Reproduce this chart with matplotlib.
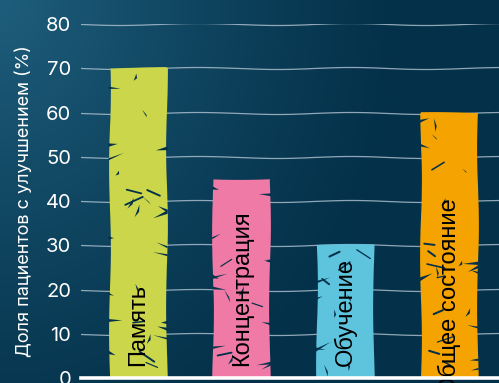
import numpy as np
import matplotlib
matplotlib.use("Agg")
import matplotlib.pyplot as plt
from matplotlib.patches import Polygon

# --- data -------------------------------------------------------------
categories = ["Память", "Концентрация", "Обучение", "Общее состояние"]
values = [70, 45, 30, 60]
bar_colors = ["#ccd64a", "#ef7aa6", "#5ec3dd", "#f5a300"]
y_ticks = [0, 10, 20, 30, 40, 50, 60, 70, 80]
y_label = "Доля пациентов с улучшением (%)"

DARK = np.array([4, 49, 74]) / 255
LIGHT = np.array([30, 94, 124]) / 255

W, H = 4.99, 3.83
fig = plt.figure(figsize=(W, H), dpi=100)

# background gradient, lighter in the upper-left corner
bg = fig.add_axes([0, 0, 1, 1], zorder=-10)
gx, gy = np.meshgrid(np.linspace(0, 1, 250), np.linspace(0, 1, 200))
d = np.sqrt((gx / 0.8) ** 2 + (gy / 1.25) ** 2)
t = np.clip(1 - d, 0, 1) ** 1.2
img = DARK[None, None, :] + (LIGHT - DARK)[None, None, :] * t[..., None]
bg.imshow(img, aspect="auto", extent=[0, 1, 0, 1], origin="upper")
bg.axis("off")

ax = fig.add_axes([0.1623, 0.013, 0.852, 0.924])
ax.patch.set_alpha(0)
ax.set_xlim(-0.55, 3.55)
ax.set_ylim(0, 80)
for s in ax.spines.values():
    s.set_visible(False)

# hand-drawn looking grid
for yv in y_ticks[1:]:
    ln = ax.axhline(yv, color="#a9bccb", lw=0.9, alpha=0.85, zorder=1)
    ln.set_sketch_params(scale=1.0, length=160, randomness=1.5)

ax.axhline(0, color="white", lw=2.6, zorder=6, clip_on=False)

x = np.arange(len(categories))
bars = ax.bar(x, values, width=0.55, color=bar_colors, zorder=3, linewidth=0)
for b in bars:
    b.set_sketch_params(scale=0.9, length=180, randomness=2)

# scratchy texture inside the bars
rng = np.random.default_rng(5)
px = 1 / 103.7
py = 1 / 4.425
bg_col = DARK
for xi, v in zip(x, values):
    half = 0.55 / 2
    n = int(v * 0.42)
    for _ in range(n):
        # marks thin out slightly towards the top of the bar
        yy = v * (1 - rng.uniform(0.0, 1.0) ** 0.8) + 1.5
        yy = min(yy, v - 2)
        kind = rng.random()
        if kind < 0.4:
            # wedge cut in from one edge
            side = rng.choice([-1, 1])
            x0 = xi + side * (half + 1 * px)
            L = rng.uniform(5, 16) * px
            w = rng.uniform(1.8, 4.0) * py
            ang = rng.uniform(-0.6, 0.6)
            tipx = x0 - side * L
            tipy = yy + ang * (L / px) * py
            ax.add_patch(Polygon([[x0, yy - w / 2], [x0, yy + w / 2], [tipx, tipy]],
                                 closed=True, color=bg_col, lw=0, zorder=4))
        elif kind < 0.75:
            # small dark shard inside the bar
            cx = xi + rng.uniform(-half + 5 * px, half - 5 * px)
            L = rng.uniform(3, 7)
            a = rng.uniform(0.6, 2.5)
            dx, dy = np.cos(a) * L * px, np.sin(a) * L * py
            ax.add_patch(Polygon([[cx - dx, yy - dy], [cx + dx, yy + dy],
                                  [cx + 2.0 * px, yy - 1.0 * py]],
                                 closed=True, color=bg_col, lw=0, zorder=4))
        else:
            # thin diagonal scratch
            cx = xi + rng.uniform(-half, half) * 0.7
            L = rng.uniform(8, 20)
            a = rng.uniform(-0.3, 0.3) + (np.pi / 8 if rng.random() < 0.5 else -np.pi / 8)
            dx, dy = np.cos(a) * L * px, np.sin(a) * L * py
            ax.plot([cx - dx / 2, cx + dx / 2], [yy - dy / 2, yy + dy / 2],
                    color=bg_col, lw=rng.uniform(0.8, 1.5), zorder=4,
                    solid_capstyle="round")

# category names written up the bars
label_base = [2.7, 2.7, 2.7, -3.8]
for xi, name, yb in zip(x, categories, label_base):
    ax.text(xi, yb, name, rotation=90, ha="center", va="bottom",
            fontsize=17, family="Liberation Sans", color="black", zorder=5)

ax.set_xticks([])
ax.set_yticks(y_ticks)
ax.set_yticklabels([str(v) for v in y_ticks], family="Inter", fontsize=14.5,
                   color="white")
ax.tick_params(axis="y", length=0, pad=7)
ax.set_ylabel(y_label, family="Inter", fontsize=13, color="white", labelpad=9)

fig.savefig("out.png", dpi=100)
